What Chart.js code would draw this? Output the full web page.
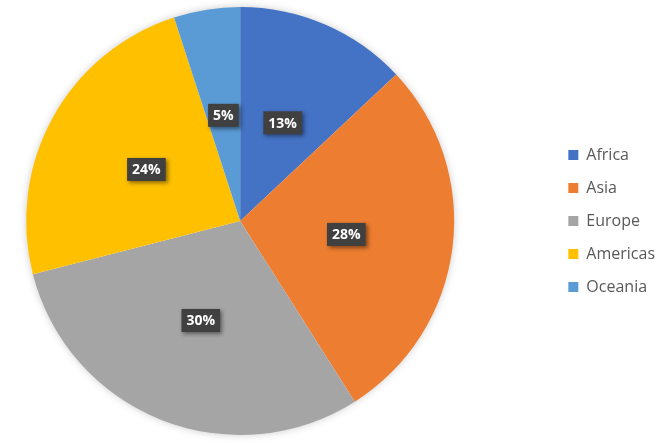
<!DOCTYPE html>
<html>
<head>
<meta charset="utf-8">
<script src="https://cdn.jsdelivr.net/npm/chart.js@4.4.1/dist/chart.umd.min.js"></script>
<style>
  html, body { margin: 0; padding: 0; background: #fff; overflow: hidden; }
  /* canvas is a bit wider than the window and pulled left, so the pie sits left of centre */
  #wrap { width: 733px; height: 443px; margin-left: -71px; }
</style>
</head>
<body>
<div id="wrap"><canvas id="pie"></canvas></div>
<script>
// regions and their share (%)
const regions = ['Africa', 'Asia', 'Europe', 'Americas', 'Oceania'];
const shares = [13, 28, 30, 24, 5];
const sliceColors = ['#4472C4', '#ED7D31', '#A5A5A5', '#FFC000', '#5B9BD5'];

// soft shadow behind the whole pie
const pieShadow = {
  id: 'pieShadow',
  beforeDatasetsDraw(chart) {
    const arc = chart.getDatasetMeta(0).data[0];
    if (!arc) return;
    const ctx = chart.ctx;
    ctx.save();
    ctx.shadowColor = 'rgba(0,0,0,0.25)';
    ctx.shadowBlur = 8;
    ctx.fillStyle = '#ffffff';
    ctx.beginPath();
    ctx.arc(arc.x, arc.y, arc.outerRadius - 1, 0, Math.PI * 2);
    ctx.fill();
    ctx.restore();
  }
};

// dark boxed percentage labels in the middle of each slice
const sliceLabels = {
  id: 'sliceLabels',
  afterDatasetsDraw(chart) {
    const ctx = chart.ctx;
    const data = chart.data.datasets[0].data;
    const total = data.reduce((a, b) => a + b, 0);
    ctx.save();
    ctx.font = 'bold 14px "Open Sans"';
    ctx.textAlign = 'center';
    ctx.textBaseline = 'middle';
    chart.getDatasetMeta(0).data.forEach((arc, i) => {
      const p = arc.getCenterPoint();
      const txt = Math.round(data[i] / total * 100) + '%';
      const w = ctx.measureText(txt).width + 10;
      const h = 23;
      ctx.save();
      ctx.shadowColor = 'rgba(0,0,0,0.45)';
      ctx.shadowBlur = 4;
      ctx.shadowOffsetX = 2;
      ctx.shadowOffsetY = 2;
      ctx.fillStyle = '#404040';
      ctx.fillRect(p.x - w / 2, p.y - h / 2, w, h);
      ctx.restore();
      ctx.fillStyle = '#ffffff';
      ctx.fillText(txt, p.x, p.y + 1);
    });
    ctx.restore();
  }
};

new Chart(document.getElementById('pie'), {
  type: 'pie',
  data: {
    labels: regions,
    datasets: [{
      data: shares,
      backgroundColor: sliceColors,
      borderWidth: 0
    }]
  },
  options: {
    responsive: true,
    maintainAspectRatio: false,
    animation: false,
    layout: {
      padding: { left: 0, right: -3, top: 7, bottom: 8 }
    },
    plugins: {
      legend: {
        position: 'right',
        labels: {
          boxWidth: 10,
          boxHeight: 10,
          padding: 17,
          color: '#595959',
          font: { family: '"Open Sans"', size: 16 }
        }
      },
      tooltip: { enabled: false }
    }
  },
  plugins: [pieShadow, sliceLabels]
});
</script>
</body>
</html>
